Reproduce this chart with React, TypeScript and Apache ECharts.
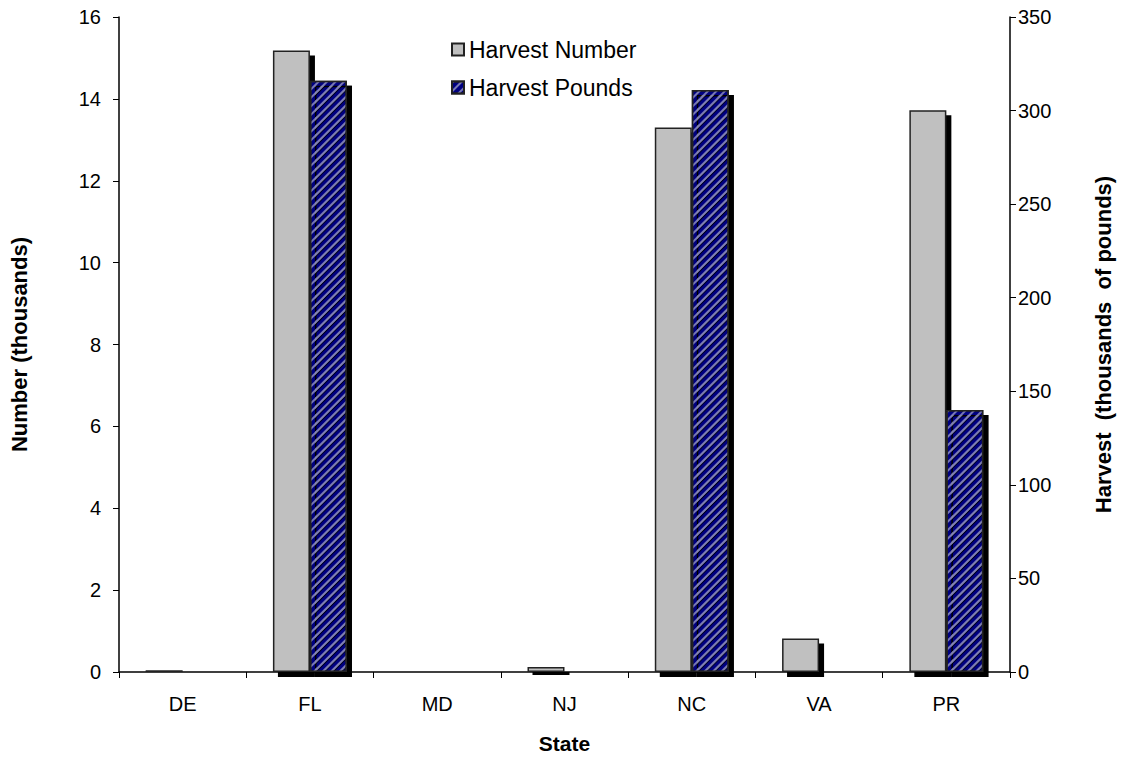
import React, { useEffect, useRef } from "react";
import * as echarts from "echarts";

const states = ["DE", "FL", "MD", "NJ", "NC", "VA", "PR"];
const harvestNumber = [0.04, 15.18, 0.02, 0.12, 13.3, 0.82, 13.72];
const harvestPounds = [0.8, 316, 0.3, 0.2, 311, 0.3, 140];
const leftTicks = { min: 0, max: 16, interval: 2 };
const rightTicks = { min: 0, max: 350, interval: 50 };

export default function App() {
  const ref = useRef<HTMLDivElement>(null);
  useEffect(() => {
    if (!ref.current) return;
    document.body.style.margin = "0";
    document.body.style.overflow = "hidden";
    const chart = echarts.init(ref.current, null, { renderer: "svg" });
    const font = "Liberation Sans, Arial, sans-serif";
    const axisLine = { show: true, lineStyle: { color: "#000", width: 1.5 } };
    chart.setOption({
      animation: false,
      textStyle: { fontFamily: font },
      grid: { left: 117, right: 114, top: 17, bottom: 84 },
      legend: {
        orient: "vertical",
        left: 446,
        top: 33,
        itemWidth: 12,
        itemHeight: 12,
        itemGap: 15,
        icon: "rect",
        textStyle: { fontSize: 23, color: "#000", fontFamily: font },
        data: ["Harvest Number", "Harvest Pounds"],
      },
      xAxis: {
        type: "category",
        data: states,
        axisLine,
        axisTick: { show: true, inside: false, length: 6, lineStyle: { color: "#000" } },
        axisLabel: { fontSize: 20, color: "#000", margin: 22, fontFamily: font },
        splitLine: { show: false },
        name: "State",
        nameLocation: "middle",
        nameGap: 61,
        nameTextStyle: { fontSize: 21, fontWeight: "bold", color: "#000", fontFamily: font },
      },
      yAxis: [
        {
          type: "value",
          ...leftTicks,
          position: "left",
          axisLine,
          axisTick: { show: true, length: 6, lineStyle: { color: "#000" } },
          axisLabel: { fontSize: 20, color: "#000", margin: 18, fontFamily: font },
          splitLine: { show: false },
          name: "Number (thousands)",
          nameLocation: "middle",
          nameGap: 89,
          nameTextStyle: { fontSize: 22, fontWeight: "bold", color: "#000", fontFamily: font },
        },
        {
          type: "value",
          ...rightTicks,
          position: "right",
          axisLine,
          axisTick: { show: true, length: 6, lineStyle: { color: "#000" } },
          axisLabel: { fontSize: 20, color: "#000", margin: 8, fontFamily: font },
          splitLine: { show: false },
          name: "Harvest  (thousands  of pounds)",
          nameLocation: "middle",
          nameGap: 82,
          nameRotate: 90,
          nameTextStyle: { fontSize: 22, fontWeight: "bold", color: "#000", fontFamily: font },
        },
      ],
      series: [
        {
          name: "Harvest Number",
          type: "bar",
          yAxisIndex: 0,
          data: harvestNumber,
          barWidth: 37,
          barGap: "0%",
          itemStyle: {
            color: "#c0c0c0",
            borderColor: "#222",
            borderWidth: 1.5,
            shadowColor: "#000",
            shadowOffsetX: 5,
            shadowOffsetY: 5,
            shadowBlur: 0,
          },
        },
        {
          name: "Harvest Pounds",
          type: "bar",
          yAxisIndex: 1,
          data: harvestPounds,
          barWidth: 37,
          barGap: "0%",
          itemStyle: {
            color: "#000080",
            borderColor: "#222",
            borderWidth: 1.5,
            shadowColor: "#000",
            shadowOffsetX: 5,
            shadowOffsetY: 5,
            shadowBlur: 0,
            decal: {
              symbol: "rect",
              symbolSize: 1,
              color: "rgba(150,150,195,0.8)",
              dashArrayX: [1, 0],
              dashArrayY: [1.2, 3.3],
              rotation: -Math.PI / 4,
            },
          },
        },
      ],
    });
    return () => chart.dispose();
  }, []);
  return <div ref={ref} style={{ width: 1124, height: 759 }} />;
}
